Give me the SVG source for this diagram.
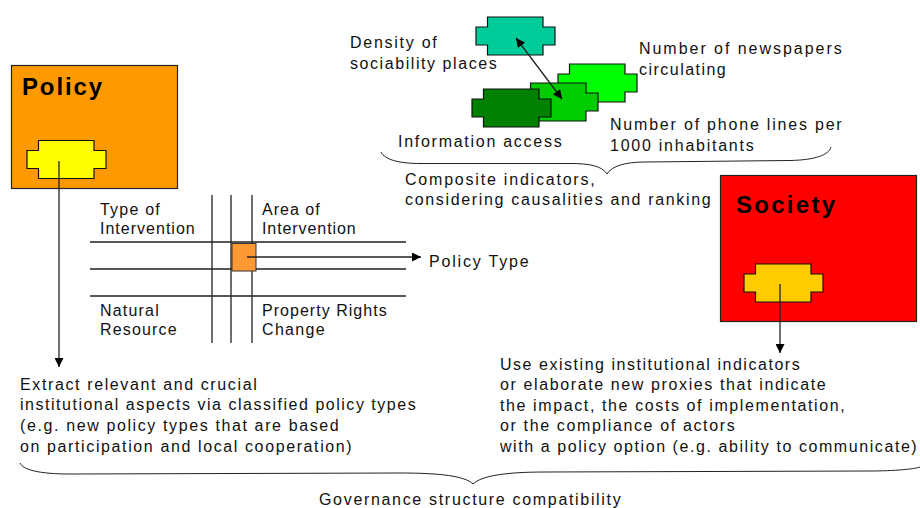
<svg xmlns="http://www.w3.org/2000/svg" width="920" height="508" viewBox="0 0 920 508">
<defs>
<marker id="ah" viewBox="0 0 10 10" refX="10" refY="5" markerWidth="10" markerHeight="9" markerUnits="userSpaceOnUse" orient="auto-start-reverse"><path d="M0,0L10,5L0,10Z" fill="#000"/></marker>
<path id="cross" d="M11.500,0H67V10H79V28H67V38H11.500V28H0V10H11.500Z"/>
</defs>
<style>
text{font-family:"Liberation Sans",Arial,sans-serif;font-size:16px;fill:#111;letter-spacing:.3px}
.h{font-size:24px;font-weight:bold;fill:#000;letter-spacing:2px}
.s{stroke:#111;stroke-width:1.200}
.l{stroke:#222;stroke-width:1.300;fill:none}
.b{stroke:#222;stroke-width:1;fill:none}
</style>
<rect width="920" height="508" fill="#fff"/>
<g id="policy">
<rect x="11.500" y="65.500" width="166" height="123" fill="#ff9900" stroke="#222" stroke-width="1.200"/>
<text class="h" x="22" y="95" textLength="82">Policy</text>
<use href="#cross" x="27" y="140.500" fill="#ffff00" class="s"/>
</g>
<g id="society">
<rect x="720.500" y="175.500" width="196" height="146" fill="#ff0000" stroke="#222" stroke-width="1.200"/>
<text class="h" x="736" y="213" textLength="101">Society</text>
<use href="#cross" x="744" y="264" fill="#ffcc00" class="s"/>
</g>
<g id="indicator-newspapers"><use href="#cross" x="558" y="64" fill="#00ff00" class="s"/>
<text x="639" y="54" textLength="203">Number of newspapers</text><text x="639" y="75" textLength="87">circulating</text></g>
<g id="indicator-phone"><use href="#cross" x="519" y="83" fill="#00cc00" class="s"/>
<text x="610" y="130" textLength="232">Number of phone lines per</text><text x="610" y="151" textLength="144">1000 inhabitants</text></g>
<g id="indicator-info"><use href="#cross" x="472" y="89" fill="#008000" class="s"/>
<text x="398" y="147" textLength="164">Information access</text></g>
<g id="indicator-density"><use href="#cross" x="476" y="17" fill="#00cc99" class="s"/>
<text x="350" y="48" textLength="87">Density of</text><text x="350" y="69" textLength="147">sociability places</text></g>
<g id="grid">
<path class="l" d="M90,242H406M90,269H406M90,296H406M212,195V343M231,195V343M252,195V343"/>
<rect x="232" y="243.500" width="24" height="27.500" fill="#ff9933" stroke="#333" stroke-width="1"/>
<text x="100" y="215" textLength="60">Type of</text><text x="100" y="234" textLength="95">Intervention</text>
<text x="262" y="215" textLength="58">Area of</text><text x="262" y="234" textLength="94">Intervention</text>
<text x="100" y="316" textLength="59">Natural</text><text x="100" y="335" textLength="77">Resource</text>
<text x="262" y="316" textLength="125">Property Rights</text><text x="262" y="335" textLength="63">Change</text>
</g>
<g id="connectors">
<path class="l" d="M59,161V367" marker-end="url(#ah)"/>
<path class="l" d="M780,284V353" marker-end="url(#ah)"/>
<path class="l" d="M247,257H421" marker-end="url(#ah)"/>
<path class="l" d="M516,38L562,99" marker-start="url(#ah)" marker-end="url(#ah)"/>
<path class="b" d="M381,152C385,160 400,163.500 420,163.500H570C590,163.500 602,166 607,174C612,166 625,162 645,162L790,160.500C815,160 829,155 831,147"/>
<path class="b" d="M20,463C23,470 40,474 70,474L400,473C440,473 465,476 473,484C481,476 505,472 545,472L870,471C895,471 915,469 920,467"/>
</g>
<g id="labels">
<text x="429" y="267" textLength="100">Policy Type</text>
<text x="405" y="185" textLength="190">Composite indicators,</text>
<text x="405" y="205" textLength="306">considering causalities and ranking</text>
<text x="20" y="390" textLength="237">Extract relevant and crucial</text>
<text x="20" y="410" textLength="396">institutional aspects via classified policy types</text>
<text x="20" y="431" textLength="319">(e.g. new policy types that are based</text>
<text x="20" y="452" textLength="332">on participation and local cooperation)</text>
<text x="500" y="370" textLength="300">Use existing institutional indicators</text>
<text x="500" y="390" textLength="326">or elaborate new proxies that indicate</text>
<text x="500" y="411" textLength="345">the impact, the costs of implementation,</text>
<text x="500" y="431" textLength="235">or the compliance of actors</text>
<text x="500" y="452" textLength="417">with a policy option (e.g. ability to communicate)</text>
<text x="319" y="505" textLength="302">Governance structure compatibility</text>
</g>
</svg>
